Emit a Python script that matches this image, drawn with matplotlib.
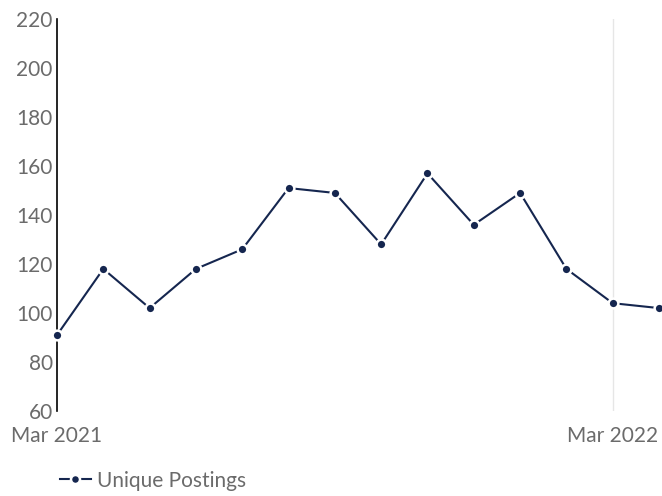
import matplotlib
matplotlib.use("Agg")
import matplotlib.pyplot as plt

months = ["Mar 2021", "Apr 2021", "May 2021", "Jun 2021", "Jul 2021", "Aug 2021", "Sep 2021",
          "Oct 2021", "Nov 2021", "Dec 2021", "Jan 2022", "Feb 2022", "Mar 2022", "Apr 2022"]
unique_postings = [91, 118, 102, 118, 126, 151, 149, 128, 157, 136, 149, 118, 104, 102]
y_ticks = [60, 80, 100, 120, 140, 160, 180, 200, 220]
x_tick_labels = ["Mar 2021", "Mar 2022"]

plt.rcParams['font.family'] = ['Lato', 'DejaVu Sans']
fig = plt.figure(figsize=(6.62, 4.96), dpi=100)
ax = fig.add_axes([0.0861, 0.1714, 0.9094, 0.7903])

x = list(range(len(months)))
color = "#15264f"
ax.plot(x, unique_postings, color=color, lw=1.5, marker="o", markersize=7,
        markerfacecolor=color, markeredgecolor="white", markeredgewidth=1.8,
        label="Unique Postings", clip_on=False, zorder=3)

ax.set_ylim(60, 220)
ax.set_xlim(0, len(months) - 1)
ax.set_yticks(y_ticks)
tick_pos = [months.index(m) for m in x_tick_labels]
ax.set_xticks(tick_pos)
ax.set_xticklabels(x_tick_labels)
ax.tick_params(axis="both", length=0, labelsize=15, labelcolor="#6b6b6b")
ax.tick_params(axis="y", pad=3)
ax.tick_params(axis="x", pad=11)

for s in ["top", "right", "bottom"]:
    ax.spines[s].set_visible(False)
ax.spines["left"].set_color("black")
ax.spines["left"].set_linewidth(1.2)

ax.axvline(tick_pos[1], color="#e6e6e6", lw=1, zorder=1)

leg = fig.legend(loc="lower left", bbox_to_anchor=(0.062, -0.027), frameon=False,
                 handlelength=1.5, fontsize=15, labelcolor="#6b6b6b", handletextpad=0.3)
for line in leg.get_lines():
    line.set_markersize(6.5)

fig.savefig("out.png", dpi=100)
